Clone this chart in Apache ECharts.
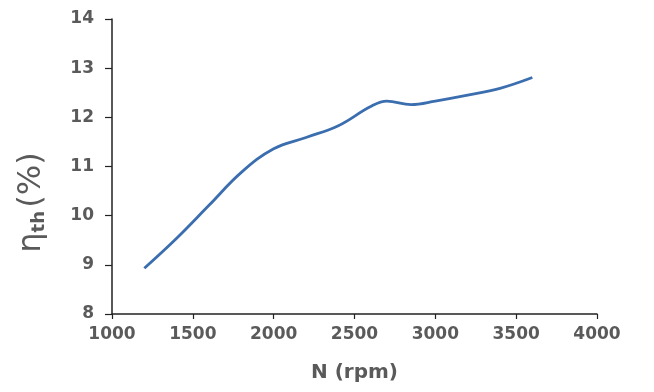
<!DOCTYPE html>
<html>
<head>
<meta charset="utf-8">
<script src="https://cdn.jsdelivr.net/npm/echarts@6/dist/echarts.min.js"></script>
<style>
  html, body { margin: 0; padding: 0; background: #fff; }
  #chart { width: 654px; height: 392px; }
</style>
</head>
<body>
<div id="chart"></div>
<script>
// engine speed (rpm) and thermal efficiency (%)
const speed = [1200, 1400, 1600, 1800, 2000, 2200, 2400, 2600, 2700, 2850, 3000, 3200, 3400, 3600]
const efficiency = [8.93, 9.54, 10.21, 10.88, 11.36, 11.59, 11.83, 12.22, 12.33, 12.26, 12.33, 12.45, 12.59, 12.81]

const chart = echarts.init(document.getElementById('chart'))

const fontFamily = 'DejaVu Sans, sans-serif'
const labelFont = {
  color: '#5a5a5a',
  fontFamily: fontFamily,
  fontWeight: 'bold',
  fontSize: 17
}

const option = {
  animation: false,
  grid: {
    left: 112,
    right: 57,
    top: 19,
    bottom: 78
  },
  xAxis: {
    type: 'value',
    min: 1000,
    max: 4000,
    interval: 500,
    name: 'N (rpm)',
    nameLocation: 'middle',
    nameGap: 49,
    nameTextStyle: {
      color: '#5a5a5a',
      fontFamily: fontFamily,
      fontWeight: 'bold',
      fontSize: 20
    },
    axisLine: { show: true, lineStyle: { color: '#222', width: 1.5 } },
    axisTick: { show: true, inside: false, length: 5, lineStyle: { color: '#222', width: 1.2 } },
    axisLabel: Object.assign({ margin: 12, formatter: v => String(v) }, labelFont),
    splitLine: { show: false }
  },
  yAxis: {
    type: 'value',
    min: 8,
    max: 14,
    interval: 1,
    name: '{main|η}{sub|th} {main|(%)}',
    nameLocation: 'middle',
    nameGap: 64,
    nameTextStyle: {
      padding: [0, 72, 0, 0],
      rich: {
        main: {
          color: '#5a5a5a',
          fontFamily: fontFamily,
          fontSize: 32
        },
        sub: {
          color: '#5a5a5a',
          fontFamily: fontFamily,
          fontWeight: 'bold',
          fontSize: 18,
          verticalAlign: 'bottom',
          padding: [12, 0, 0, 0]
        }
      }
    },
    axisLine: { show: true, lineStyle: { color: '#222', width: 1.5 } },
    axisTick: { show: true, inside: false, length: 7, lineStyle: { color: '#222', width: 1.2 } },
    axisLabel: Object.assign({ margin: 18 }, labelFont),
    splitLine: { show: false }
  },
  series: [
    {
      type: 'line',
      data: speed.map((s, i) => [s, efficiency[i]]),
      smooth: 0.4,
      showSymbol: false,
      lineStyle: { color: '#3b6eaf', width: 2.8 }
    }
  ]
}

chart.setOption(option)
</script>
</body>
</html>
